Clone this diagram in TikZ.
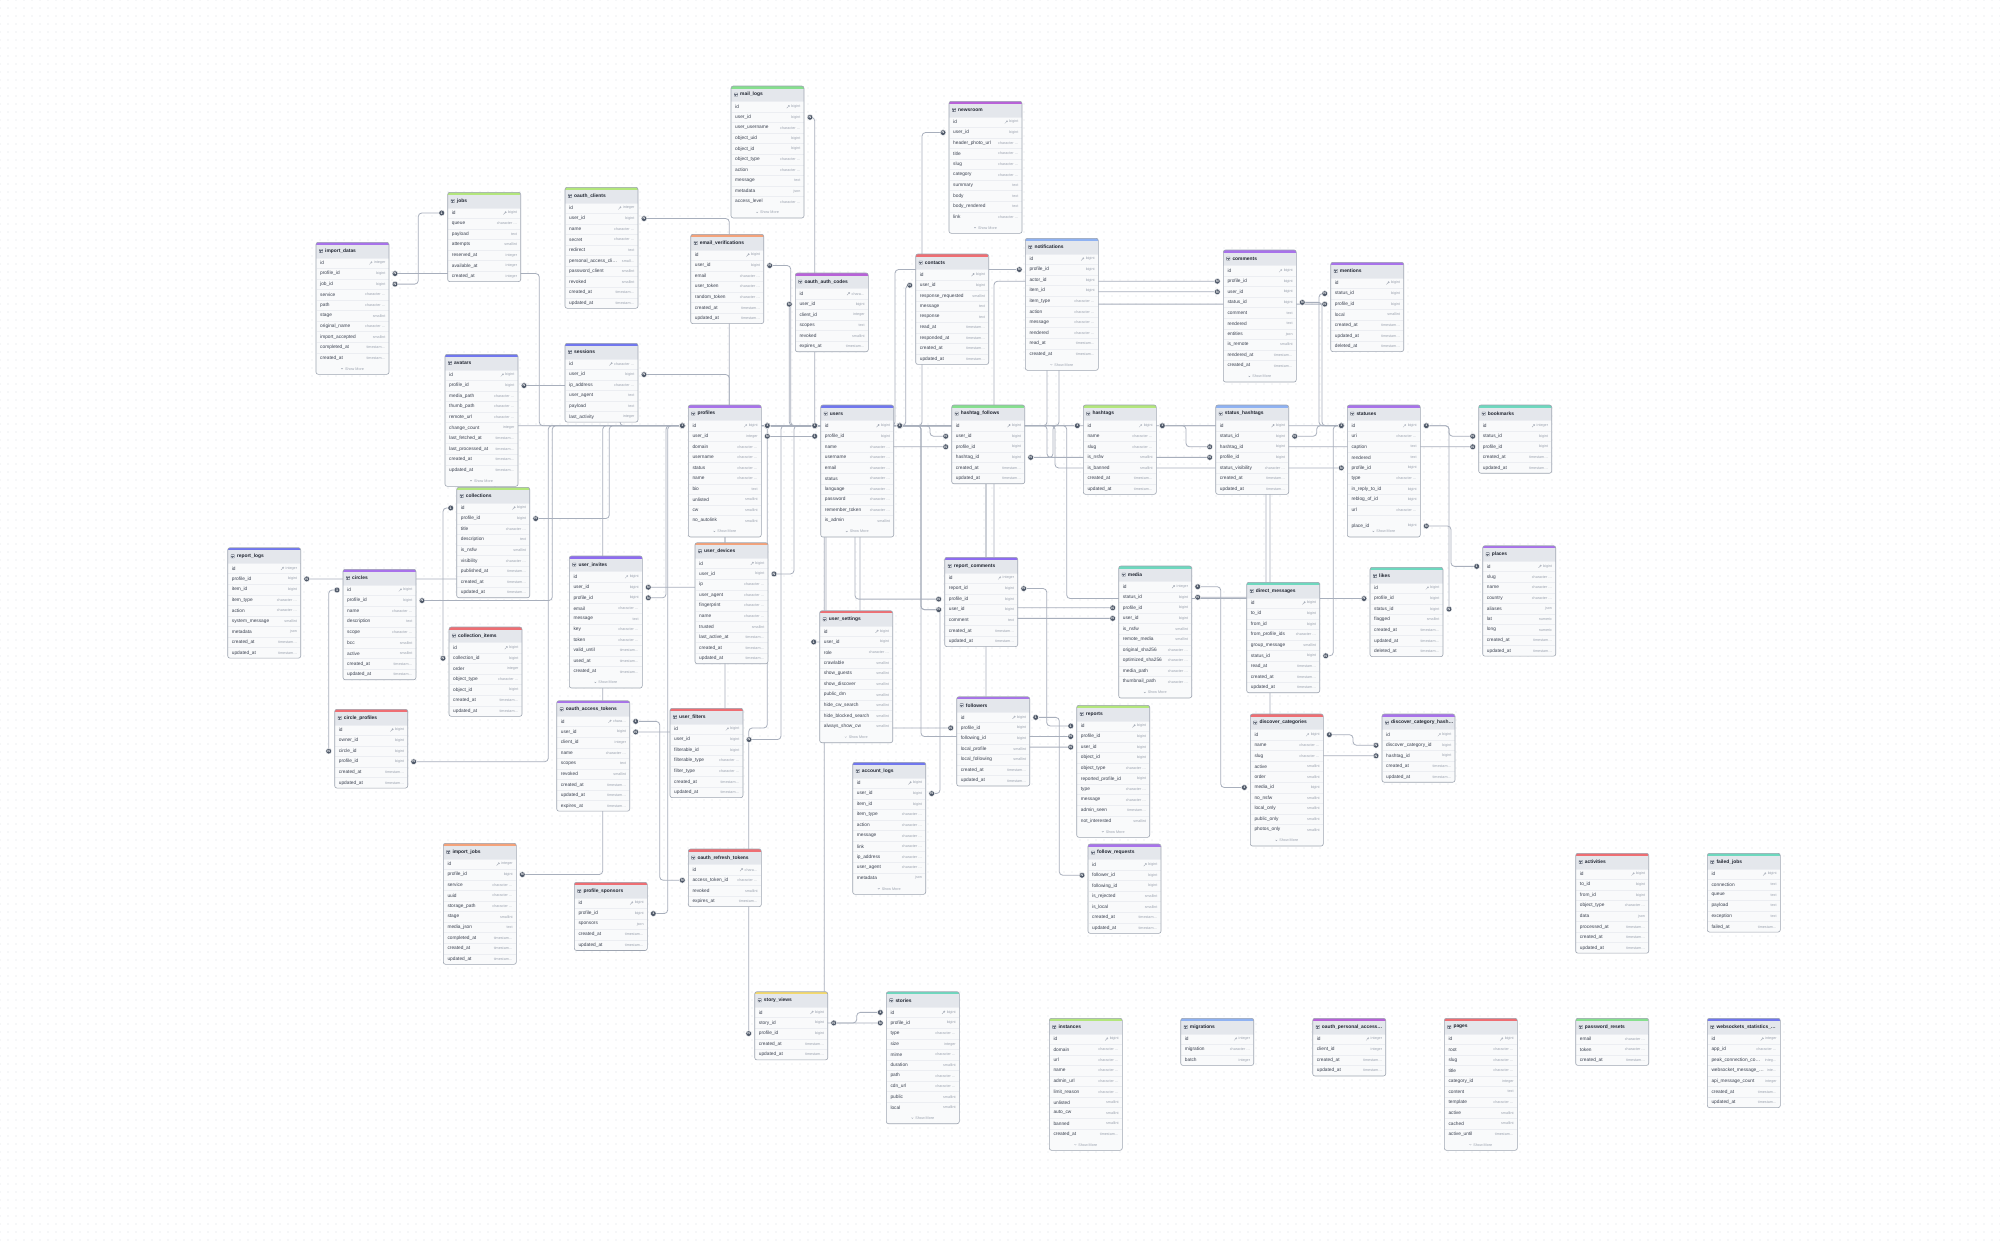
\documentclass[tikz,border=0pt]{standalone}
\usepackage{fontspec}
\setmainfont{Liberation Sans}
\usetikzlibrary{calc,patterns}
\pgfdeclarelayer{back}\pgfdeclarelayer{bg}
\pgfsetlayers{back,bg,main}
\definecolor{cpurple}{HTML}{A872EA}
\definecolor{cviolet}{HTML}{8E6CF0}
\definecolor{cindigo}{HTML}{7177EE}
\definecolor{cgreen}{HTML}{86DF8E}
\definecolor{clime}{HTML}{B3E67C}
\definecolor{cteal}{HTML}{6ED8BE}
\definecolor{cred}{HTML}{EE6E73}
\definecolor{corange}{HTML}{F4A27A}
\definecolor{clblue}{HTML}{8FB2F2}
\definecolor{cyellow}{HTML}{F3D96E}
\definecolor{cmagenta}{HTML}{B862D8}
\definecolor{linec}{HTML}{A8AFBC}
\definecolor{circc}{HTML}{4F5969}
\definecolor{namec}{HTML}{3A4150}
\definecolor{typec}{HTML}{9AA1AE}
\definecolor{iconc}{HTML}{6B7280}
\definecolor{titlec}{HTML}{1F2430}
\definecolor{tbfillc}{HTML}{F9FAFB}
\definecolor{hdc}{HTML}{E4E7EC}
\definecolor{sepcc}{HTML}{ECEEF2}
\definecolor{borderc}{HTML}{9EA5B1}
\definecolor{dotc}{HTML}{D9DDE3}
\pgfdeclarepatternformonly{bgdots}{\pgfqpoint{-1pt}{-1pt}}{\pgfqpoint{1pt}{1pt}}{\pgfqpoint{8pt}{8pt}}{\pgfpathcircle{\pgfqpoint{0pt}{0pt}}{0.6pt}\pgfusepath{fill}}
\catcode`\_=12
\tikzset{
  fk/.style={draw=linec, line width=0.8pt, rounded corners=3.5pt},
  circ/.style={circle, fill=circc, draw=white, line width=0.4pt, inner sep=0pt, minimum size=5.8pt, text=white, font=\fontsize{3.6}{3.6}\selectfont\bfseries},
  rowname/.style={inner sep=0pt, text=namec, font=\fontsize{4.8}{5}\selectfont},
  rowtype/.style={inner sep=0pt, text=typec, font=\fontsize{3.7}{4}\selectfont},
  tbtitle/.style={inner sep=0pt, text=titlec, font=\fontsize{4.9}{5}\selectfont\bfseries},
  smore/.style={inner sep=0pt, text=typec, font=\fontsize{3.7}{4}\selectfont}
}
\def\ch{character …}
\def\ts{timestam…}
\newcommand\keyicon[1]{%
  \draw[typec,line width=0.3pt] ([xshift=-2.3pt,yshift=0.7pt]#1.west) circle (0.75pt);
  \draw[typec,line width=0.3pt] ([xshift=-2.9pt,yshift=0.1pt]#1.west) -- ++(-1.6pt,-1.6pt);}
\newcommand\tbl[8]{%
  \gdef\nrows{0}%
  \foreach \a in {#8}{\pgfmathtruncatemacro\tmpn{\nrows+1}\xdef\nrows{\tmpn}}%
  \pgfmathsetmacro\tbh{15.4+\nrows*10.56+#6*11}%
  \fill[tbfillc,rounded corners=2.2] (#3,#4) rectangle ++(73,\tbh);
  \begin{scope}
    \clip[rounded corners=2.2] (#3,#4) rectangle ++(73,\tbh);
    \fill[hdc] (#3,#4) rectangle ++(73,15.4);
    \fill[#5] (#3,#4) rectangle ++(73,2.7);
  \end{scope}
  \draw[sepcc,line width=0.4] (#3,#4+15.4) -- ++(73,0);
  \foreach \rn/\rt [count=\ri] in {#8}{%
    \pgfmathsetmacro\cy{#4+15.4+(\ri-0.5)*10.56}%
    \coordinate (#1-\ri-w) at (#3-6,\cy);
    \coordinate (#1-\ri-e) at (#3+79,\cy);
    \ifnum\ri>1 \draw[sepcc,line width=0.4] (#3+0.5,\cy-5.28) -- ++(72,0);\fi
    \node[rowname,anchor=west] (#1-\ri-n) at (#3+4,\cy) {\rn};
    \node[rowtype,anchor=east] (#1-\ri-t) at (#3+69.5,\cy) {\rt};
  }
  \ifnum#7=1 \keyicon{#1-1-t}\fi
  \ifnum#6=1
    \node[smore] (#1-sm) at (#3+38.5,#4+15.4+\nrows*10.56+5.4) {Show More};
    \draw[typec,line width=0.3pt] ([xshift=-3.8pt,yshift=0.5pt]#1-sm.west) -- ++(0.9pt,-0.9pt) -- ++(0.9pt,0.9pt);
  \fi
  \draw[iconc, line width=0.3, rounded corners=0.4] (#3+3.3,#4+6.9) rectangle ++(3.4,3.4);
  \draw[iconc, line width=0.3] (#3+3.3,#4+8.0) -- ++(3.4,0) (#3+4.6,#4+8.0) -- ++(0,2.3);
  \node[tbtitle,anchor=west] (#1-h) at (#3+9,#4+8.7) {#2};
  \draw[borderc,line width=0.6,rounded corners=2.2] (#3,#4) rectangle ++(73,\tbh);
}
\newcommand\fkv[5]{%
  \begin{pgfonlayer}{bg}
  \draw[fk] let \p1=(#1),\p2=(#3) in (\p1) -- (#5pt,\y1) -- (#5pt,\y2) -- (\p2);
  \end{pgfonlayer}
  \node[circ] (#1-c) at (#1) {#2};
  \node[circ] (#3-c) at (#3) {#4};}
\newcommand\fkp[5]{%
  \begin{pgfonlayer}{bg}
  \draw[fk] (#1) #5 (#3);
  \end{pgfonlayer}
  \node[circ] (#1-c) at (#1) {#2};
  \node[circ] (#3-c) at (#3) {#4};}
\begin{document}
\begin{tikzpicture}[x=1pt,y=-1pt]
\begin{pgfonlayer}{back}
\fill[white] (0,0) rectangle (2000,1240);
\fill[pattern=bgdots, pattern color=dotc] (0,0) rectangle (2000,1240);
\end{pgfonlayer}
\useasboundingbox (0,0) rectangle (2000,1240);

\tbl{mail_logs}{mail_logs}{731}{86}{cgreen}{1}{1}{id/bigint,user_id/bigint,user_username/\ch,object_uid/bigint,object_id/bigint,object_type/\ch,action/\ch,message/text,metadata/json,access_level/\ch}
\tbl{newsroom}{newsroom}{949}{101.3}{cmagenta}{1}{1}{id/bigint,user_id/bigint,header_photo_url/\ch,title/\ch,slug/\ch,category/\ch,summary/text,body/text,body_rendered/text,link/\ch}
\tbl{jobs}{jobs}{447.7}{192.3}{clime}{0}{1}{id/bigint,queue/\ch,payload/text,attempts/smallint,reserved_at/integer,available_at/integer,created_at/integer}
\tbl{oauth_clients}{oauth_clients}{565}{187.3}{clime}{0}{1}{id/integer,user_id/bigint,name/\ch,secret/\ch,redirect/text,personal_access_cli…/small…,password_client/smallint,revoked/smallint,created_at/\ts,updated_at/\ts}
\tbl{email_verifications}{email_verifications}{690.7}{234.3}{corange}{0}{1}{id/bigint,user_id/bigint,email/\ch,user_token/\ch,random_token/\ch,created_at/\ts,updated_at/\ts}
\tbl{oauth_auth_codes}{oauth_auth_codes}{795.3}{273}{cmagenta}{0}{1}{id/chara…,user_id/bigint,client_id/integer,scopes/text,revoked/smallint,expires_at/\ts}
\tbl{contacts}{contacts}{915.7}{254}{cred}{0}{1}{id/bigint,user_id/bigint,response_requested/smallint,message/text,response/text,read_at/\ts,responded_at/\ts,created_at/\ts,updated_at/\ts}
\tbl{notifications}{notifications}{1025.3}{238.3}{clblue}{1}{1}{id/bigint,profile_id/bigint,actor_id/bigint,item_id/bigint,item_type/\ch,action/\ch,message/\ch,rendered/\ch,read_at/\ts,created_at/\ts}
\tbl{comments}{comments}{1223.3}{250}{cpurple}{1}{1}{id/bigint,profile_id/bigint,user_id/bigint,status_id/bigint,comment/text,rendered/text,entities/json,is_remote/smallint,rendered_at/\ts,created_at/\ts}
\tbl{mentions}{mentions}{1330.7}{262.3}{cpurple}{0}{1}{id/bigint,status_id/bigint,profile_id/bigint,local/smallint,created_at/\ts,updated_at/\ts,deleted_at/\ts}
\tbl{import_datas}{import_datas}{316}{242.3}{cpurple}{1}{1}{id/integer,profile_id/bigint,job_id/bigint,service/\ch,path/\ch,stage/smallint,original_name/\ch,import_accepted/smallint,completed_at/\ts,created_at/\ts}
\tbl{avatars}{avatars}{445}{354.3}{cindigo}{1}{1}{id/bigint,profile_id/bigint,media_path/\ch,thumb_path/\ch,remote_url/\ch,change_count/integer,last_fetched_at/\ts,last_processed_at/\ts,created_at/\ts,updated_at/\ts}
\tbl{sessions}{sessions}{565}{343.3}{cindigo}{0}{1}{id/\ch,user_id/bigint,ip_address/\ch,user_agent/text,payload/text,last_activity/integer}
\tbl{profiles}{profiles}{688.3}{405}{cpurple}{1}{1}{id/bigint,user_id/integer,domain/\ch,username/\ch,status/\ch,name/\ch,bio/text,unlisted/smallint,cw/smallint,no_autolink/smallint}
\tbl{users}{users}{820.7}{405}{cindigo}{1}{1}{id/bigint,profile_id/bigint,name/\ch,username/\ch,email/\ch,status/\ch,language/\ch,password/\ch,remember_token/\ch,is_admin/smallint}
\tbl{hashtag_follows}{hashtag_follows}{951.7}{405}{cgreen}{0}{1}{id/bigint,user_id/bigint,profile_id/bigint,hashtag_id/bigint,created_at/\ts,updated_at/\ts}
\tbl{hashtags}{hashtags}{1083.3}{405}{clime}{0}{1}{id/bigint,name/\ch,slug/\ch,is_nsfw/smallint,is_banned/smallint,created_at/\ts,updated_at/\ts}
\tbl{status_hashtags}{status_hashtags}{1215.7}{405}{clblue}{0}{1}{id/bigint,status_id/bigint,hashtag_id/bigint,profile_id/bigint,status_visibility/\ch,created_at/\ts,updated_at/\ts}
\tbl{statuses}{statuses}{1347.3}{405}{cpurple}{1}{1}{id/bigint,uri/\ch,caption/text,rendered/text,profile_id/bigint,type/\ch,in_reply_to_id/bigint,reblog_of_id/bigint,url/\ch,{}/{}}
\node[rowname,anchor=west] (statuses-pl) at (1351.3,526) {place_id};
\node[rowtype,anchor=east] (statuses-plt) at (1416.8,526) {bigint};
\coordinate (statuses-p-e) at (1426.3,526);
\tbl{bookmarks}{bookmarks}{1478.7}{405}{cteal}{0}{1}{id/integer,status_id/bigint,profile_id/bigint,created_at/\ts,updated_at/\ts}
\tbl{collections}{collections}{456.7}{487.3}{clime}{0}{1}{id/bigint,profile_id/bigint,title/\ch,description/text,is_nsfw/smallint,visibility/\ch,published_at/\ts,created_at/\ts,updated_at/\ts}
\tbl{report_logs}{report_logs}{227.7}{547.7}{cindigo}{0}{1}{id/integer,profile_id/bigint,item_id/bigint,item_type/\ch,action/\ch,system_message/smallint,metadata/json,created_at/\ts,updated_at/\ts}
\tbl{circles}{circles}{343}{569.3}{cpurple}{0}{1}{id/bigint,profile_id/bigint,name/\ch,description/text,scope/\ch,bcc/smallint,active/smallint,created_at/\ts,updated_at/\ts}
\tbl{collection_items}{collection_items}{449}{627}{cred}{0}{1}{id/bigint,collection_id/bigint,order/integer,object_type/\ch,object_id/bigint,created_at/\ts,updated_at/\ts}
\tbl{circle_profiles}{circle_profiles}{334.7}{709.3}{cred}{0}{1}{id/bigint,owner_id/bigint,circle_id/bigint,profile_id/bigint,created_at/\ts,updated_at/\ts}
\tbl{user_invites}{user_invites}{569.3}{556}{cviolet}{1}{1}{id/bigint,user_id/bigint,profile_id/bigint,email/\ch,message/text,key/\ch,token/\ch,valid_until/\ts,used_at/\ts,created_at/\ts}
\tbl{oauth_access_tokens}{oauth_access_tokens}{556.7}{700.7}{cpurple}{0}{1}{id/chara…,user_id/bigint,client_id/integer,name/\ch,scopes/text,revoked/smallint,created_at/\ts,updated_at/\ts,expires_at/\ts}
\tbl{user_devices}{user_devices}{695}{542.7}{corange}{0}{1}{id/bigint,user_id/bigint,ip/\ch,user_agent/\ch,fingerprint/\ch,name/\ch,trusted/smallint,last_active_at/\ts,created_at/\ts,updated_at/\ts}
\tbl{user_settings}{user_settings}{819.7}{610.7}{cred}{1}{1}{id/bigint,user_id/bigint,role/\ch,crawlable/smallint,show_guests/smallint,show_discover/smallint,public_dm/smallint,hide_cw_search/smallint,hide_blocked_search/smallint,always_show_cw/smallint}
\tbl{user_filters}{user_filters}{670}{708.3}{cred}{0}{1}{id/bigint,user_id/bigint,filterable_id/bigint,filterable_type/\ch,filter_type/\ch,created_at/\ts,updated_at/\ts}
\tbl{report_comments}{report_comments}{944.7}{557.3}{cviolet}{0}{1}{id/integer,report_id/bigint,profile_id/bigint,user_id/bigint,comment/text,created_at/\ts,updated_at/\ts}
\tbl{followers}{followers}{956.7}{696.7}{cpurple}{0}{1}{id/bigint,profile_id/bigint,following_id/bigint,local_profile/smallint,local_following/smallint,created_at/\ts,updated_at/\ts}
\tbl{account_logs}{account_logs}{852.7}{762.3}{cindigo}{1}{1}{id/bigint,user_id/bigint,item_id/bigint,item_type/\ch,action/\ch,message/\ch,link/\ch,ip_address/\ch,user_agent/\ch,metadata/json}
\tbl{media}{media}{1118.7}{566}{cteal}{1}{1}{id/integer,status_id/bigint,profile_id/bigint,user_id/bigint,is_nsfw/smallint,remote_media/smallint,original_sha256/\ch,optimized_sha256/\ch,media_path/\ch,thumbnail_path/\ch}
\tbl{direct_messages}{direct_messages}{1246.7}{582.3}{cteal}{0}{1}{id/bigint,to_id/bigint,from_id/bigint,from_profile_ids/\ch,group_message/smallint,status_id/bigint,read_at/\ts,created_at/\ts,updated_at/\ts}
\tbl{likes}{likes}{1370}{567.3}{cteal}{0}{1}{id/bigint,profile_id/bigint,status_id/bigint,flagged/smallint,created_at/\ts,updated_at/\ts,deleted_at/\ts}
\tbl{places}{places}{1482.7}{545.7}{cpurple}{0}{1}{id/bigint,slug/\ch,name/\ch,country/\ch,aliases/json,lat/numeric,long/numeric,created_at/\ts,updated_at/\ts}
\tbl{reports}{reports}{1076.7}{705.3}{clime}{1}{1}{id/bigint,profile_id/bigint,user_id/bigint,object_id/bigint,object_type/\ch,reported_profile_id/bigint,type/\ch,message/\ch,admin_seen/\ts,not_interested/smallint}
\tbl{discover_categories}{discover_categories}{1250.3}{714}{cred}{1}{1}{id/bigint,name/\ch,slug/\ch,active/smallint,order/smallint,media_id/bigint,no_nsfw/smallint,local_only/smallint,public_only/smallint,photos_only/smallint}
\tbl{dch}{discover_category_hash…}{1382}{714}{cpurple}{0}{1}{id/bigint,discover_category_id/bigint,hashtag_id/bigint,created_at/\ts,updated_at/\ts}
\tbl{import_jobs}{import_jobs}{443.3}{843.3}{corange}{0}{1}{id/integer,profile_id/bigint,service/\ch,uuid/\ch,storage_path/\ch,stage/smallint,media_json/text,completed_at/\ts,created_at/\ts,updated_at/\ts}
\tbl{profile_sponsors}{profile_sponsors}{574.3}{882.3}{cred}{0}{1}{id/bigint,profile_id/bigint,sponsors/json,created_at/\ts,updated_at/\ts}
\tbl{oauth_refresh_tokens}{oauth_refresh_tokens}{688.3}{849}{cred}{0}{1}{id/chara…,access_token_id/\ch,revoked/smallint,expires_at/\ts}
\tbl{story_views}{story_views}{754.7}{991.7}{cyellow}{0}{1}{id/bigint,story_id/bigint,profile_id/bigint,created_at/\ts,updated_at/\ts}
\tbl{stories}{stories}{886.3}{991.7}{cteal}{1}{1}{id/bigint,profile_id/bigint,type/\ch,size/integer,mime/\ch,duration/smallint,path/\ch,cdn_url/\ch,public/smallint,local/smallint}
\tbl{follow_requests}{follow_requests}{1088}{844}{cpurple}{0}{1}{id/bigint,follower_id/bigint,following_id/bigint,is_rejected/smallint,is_local/smallint,created_at/\ts,updated_at/\ts}
\tbl{instances}{instances}{1049.3}{1018.3}{clime}{1}{1}{id/bigint,domain/\ch,url/\ch,name/\ch,admin_url/\ch,limit_reason/\ch,unlisted/smallint,auto_cw/smallint,banned/smallint,created_at/\ts}
\tbl{migrations}{migrations}{1180.7}{1018.3}{clblue}{0}{1}{id/integer,migration/\ch,batch/integer}
\tbl{oauth_personal}{oauth_personal_access…}{1312.7}{1018.3}{cmagenta}{0}{1}{id/integer,client_id/integer,created_at/\ts,updated_at/\ts}
\tbl{activities}{activities}{1575.7}{853.3}{cred}{0}{1}{id/bigint,to_id/bigint,from_id/bigint,object_type/\ch,data/json,processed_at/\ts,created_at/\ts,updated_at/\ts}
\tbl{failed_jobs}{failed_jobs}{1707.3}{853.3}{cteal}{0}{1}{id/bigint,connection/text,queue/text,payload/text,exception/text,failed_at/\ts}
\tbl{pages}{pages}{1444.3}{1018.3}{cred}{1}{1}{id/bigint,root/\ch,slug/\ch,title/\ch,category_id/integer,content/text,template/\ch,active/smallint,cached/smallint,active_until/\ts}
\tbl{password_resets}{password_resets}{1575.7}{1018.3}{cgreen}{0}{0}{email/\ch,token/\ch,created_at/\ts}
\tbl{websockets}{websockets_statistics_…}{1707.3}{1018.3}{cindigo}{0}{1}{id/integer,app_id/\ch,peak_connection_co…/integ…,websocket_message_…/inte…,api_message_count/integer,created_at/\ts,updated_at/\ts}

% connectors
\fkv{import_datas-3-e}{N}{jobs-1-w}{1}{418.3}
\fkv{import_datas-2-e}{N}{profiles-1-w}{1}{539.3}
\fkv{avatars-2-e}{N}{profiles-1-w}{1}{620}
\fkv{collections-2-e}{N}{profiles-1-w}{1}{609.3}
\fkv{circles-2-e}{N}{profiles-1-w}{1}{552.3}
\fkv{circle_profiles-4-e}{N}{profiles-1-w}{1}{548.3}
\fkv{report_logs-2-e}{N}{profiles-1-w}{1}{495}
\fkv{user_invites-3-e}{N}{profiles-1-w}{1}{666}
\fkv{import_jobs-2-e}{N}{profiles-1-w}{1}{602.7}
\fkv{profile_sponsors-2-e}{1}{profiles-1-w}{1}{667.7}
\fkp{collection_items-2-w}{N}{collections-1-w}{1}{-- (collection_items-2-w |- collections-1-w) --}
\fkp{circle_profiles-3-w}{N}{circles-1-w}{1}{-- (circle_profiles-3-w |- circles-1-w) --}
\fkv{oauth_refresh_tokens-2-w}{N}{oauth_access_tokens-1-e}{1}{659.7}
\fkv{oauth_access_tokens-2-e}{N}{users-1-w}{1}{725}
\fkv{user_invites-2-e}{N}{users-1-w}{1}{725}
\fkv{user_devices-2-e}{N}{users-1-w}{1}{794}
\fkv{user_filters-2-e}{N}{users-1-w}{1}{781}
\fkp{story_views-3-w}{N}{profiles-1-e}{1}{-- (748.7,728) -- (767.3,728) --}
\fkv{email_verifications-2-e}{N}{users-1-w}{1}{790.7}
\fkp{oauth_auth_codes-2-w}{N}{users-1-w}{1}{-- (oauth_auth_codes-2-w |- users-1-w) --}
\fkv{oauth_clients-2-e}{N}{users-1-w}{1}{729.3}
\fkv{sessions-2-e}{N}{users-1-w}{1}{729.3}
\fkp{mail_logs-2-e}{N}{users-1-w}{1}{-- (mail_logs-2-e -| users-1-w) --}
\fkv{user_settings-2-w}{1}{users-1-w}{1}{826}
\fkp{profiles-2-e}{N}{users-2-w}{1}{--}
\fkp{users-1-w}{1}{profiles-1-e}{1}{--}
\fkv{notifications-2-w}{N}{profiles-1-e}{1}{895}
\fkv{newsroom-2-w}{N}{users-1-e}{1}{922}
\fkv{contacts-2-w}{N}{users-1-e}{1}{905.7}
\fkv{hashtag_follows-2-w}{N}{users-1-e}{1}{930}
\fkv{hashtag_follows-3-w}{N}{profiles-1-e}{1}{850}
\fkv{hashtag_follows-4-e}{N}{hashtags-1-w}{1}{1053}
\fkv{status_hashtags-3-w}{N}{hashtags-1-e}{1}{1186}
\fkv{status_hashtags-4-w}{N}{profiles-1-e}{1}{1047}
\fkv{status_hashtags-2-e}{N}{statuses-1-w}{1}{1316.7}
\fkv{comments-4-e}{N}{statuses-1-w}{1}{1322}
\fkv{mentions-2-w}{N}{statuses-1-w}{1}{1319}
\fkv{mentions-3-w}{N}{profiles-1-e}{1}{1059}
\fkv{comments-2-w}{N}{profiles-1-e}{1}{994}
\fkv{comments-3-w}{N}{users-1-e}{1}{1047}
\fkv{statuses-5-w}{N}{profiles-1-e}{1}{1055}
\fkv{bookmarks-2-w}{N}{statuses-1-e}{1}{1449}
\fkv{bookmarks-3-w}{N}{profiles-1-e}{1}{1250}
\fkp{likes-3-e}{N}{statuses-1-e}{1}{-- (likes-3-e |- statuses-1-e) --}
\fkv{likes-2-w}{N}{profiles-1-e}{1}{1066.7}
\fkv{statuses-p-e}{N}{places-1-w}{1}{1451}
\fkv{media-2-e}{N}{statuses-1-w}{1}{1266}
\fkv{media-3-w}{N}{profiles-1-e}{1}{986}
\fkv{media-4-w}{N}{users-1-e}{1}{994}
\fkv{media-1-e}{1}{discover_categories-6-w}{1}{1220.7}
\fkv{direct_messages-6-e}{N}{statuses-1-w}{1}{1333.3}
\fkv{discover_categories-1-e}{1}{dch-2-w}{N}{1353}
\fkv{dch-3-w}{N}{hashtags-1-e}{1}{1270}
\fkv{report_comments-2-e}{N}{reports-1-w}{1}{1046.7}
\fkv{report_comments-3-w}{N}{profiles-1-e}{1}{855}
\fkv{report_comments-4-w}{N}{users-1-e}{1}{921}
\fkv{reports-2-w}{N}{profiles-1-e}{1}{921}
\fkv{reports-3-w}{N}{users-1-e}{1}{986}
\fkv{followers-1-e}{1}{follow_requests-2-w}{N}{1059.3}
\fkv{followers-2-w}{N}{profiles-1-e}{1}{860}
\fkp{account_logs-2-e}{N}{users-1-e}{1}{-- (940,793.5) -- (940,609.7) -- (921,609.7) -- (921,425.7) --}
\fkv{stories-2-w}{N}{profiles-1-e}{1}{824.3}
\fkv{story_views-2-e}{N}{stories-1-w}{1}{856.7}
\end{tikzpicture}
\end{document}
